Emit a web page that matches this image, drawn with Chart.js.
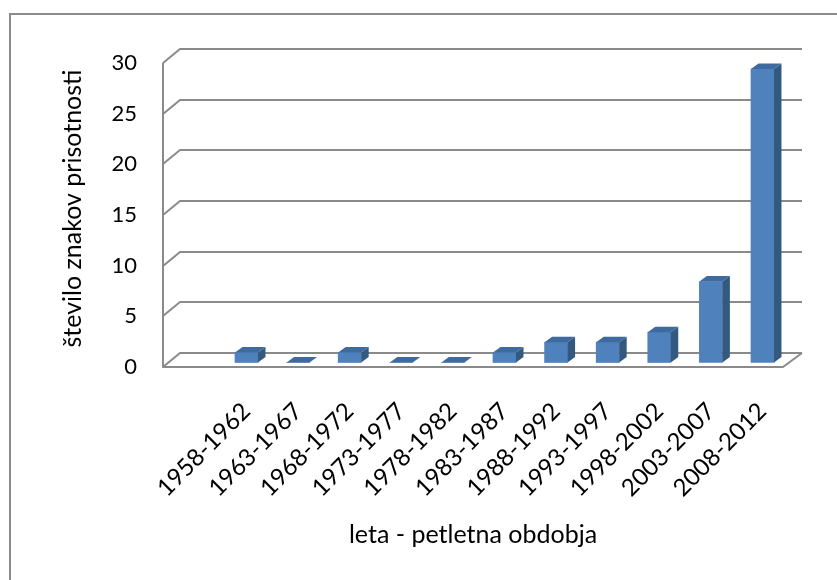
<!DOCTYPE html>
<html>
<head>
<meta charset="utf-8">
<script src="https://cdn.jsdelivr.net/npm/chart.js@4/dist/chart.umd.min.js"></script>
<style>
  html, body { margin: 0; padding: 0; background: #ffffff; }
  #wrap { position: relative; width: 837px; height: 580px; overflow: hidden; }
  #frame { position: absolute; left: 9px; top: 13px; width: 900px; height: 700px; border: 2px solid #8c8c8c; box-sizing: border-box; }
  #c { position: absolute; left: 0; top: 0; }
</style>
</head>
<body>
<div id="wrap">
  <div id="frame"></div>
  <canvas id="c" width="837" height="580"></canvas>
</div>
<script>
// ---- data ----
const categories = ['1958-1962', '1963-1967', '1968-1972', '1973-1977', '1978-1982', '1983-1987',
                    '1988-1992', '1993-1997', '1998-2002', '2003-2007', '2008-2012'];
const counts = [1, 0, 1, 0, 0, 1, 2, 2, 3, 8, 29];
const yTickValues = [0, 5, 10, 15, 20, 25, 30];
const xTitle = 'leta - petletna obdobja';
const yTitle = 'število znakov prisotnosti';

// ---- styles ----
const FONT = 'Lato, "Open Sans", sans-serif';
const FRONT = '#4F81BD';
const TOP = '#3F6A9F';
const SIDE = '#34597F';
const GRID = '#8a8a8a';

const depth3d = {
  id: 'depth3d',
  beforeDatasetsDraw(chart) {
    const ctx = chart.ctx, y = chart.scales.y, ca = chart.chartArea;
    const fl = ca.left + 19, dx = 17, dy = 14, br = ca.right, fr = br - 19;
    ctx.save();
    ctx.strokeStyle = GRID;
    ctx.lineWidth = 2;
    ctx.lineJoin = 'round';
    yTickValues.forEach(v => {
      const py = Math.round(y.getPixelForValue(v));
      ctx.beginPath();
      ctx.moveTo(fl, py);
      ctx.lineTo(fl + dx, py - dy);
      ctx.lineTo(br, py - dy);
      ctx.stroke();
    });
    const y0 = Math.round(y.getPixelForValue(0));
    const yTop = Math.round(y.getPixelForValue(yTickValues[yTickValues.length - 1]));
    ctx.beginPath();
    ctx.moveTo(fl, yTop);
    ctx.lineTo(fl, y0);
    ctx.lineTo(fr, y0);
    ctx.lineTo(br, y0 - dy);
    ctx.stroke();
    ctx.restore();
  },
  afterDatasetsDraw(chart) {
    const ctx = chart.ctx;
    const meta = chart.getDatasetMeta(0);
    const ddx = 7.5, ddy = 5.5;
    ctx.save();
    meta.data.forEach(bar => {
      const p = bar.getProps(['x', 'y', 'base', 'width'], true);
      const l = p.x - p.width / 2, r = p.x + p.width / 2;
      ctx.fillStyle = SIDE;
      ctx.beginPath();
      ctx.moveTo(r, p.y);
      ctx.lineTo(r + ddx, p.y - ddy);
      ctx.lineTo(r + ddx, p.base - ddy);
      ctx.lineTo(r, p.base);
      ctx.closePath();
      ctx.fill();
      ctx.fillStyle = TOP;
      ctx.beginPath();
      ctx.moveTo(l, p.y);
      ctx.lineTo(l + ddx, p.y - ddy);
      ctx.lineTo(r + ddx, p.y - ddy);
      ctx.lineTo(r, p.y);
      ctx.closePath();
      ctx.fill();
    });
    ctx.restore();
  }
};

new Chart(document.getElementById('c'), {
  type: 'bar',
  data: {
    datasets: [{
      data: categories.map((c, i) => ({ x: i, y: counts[i] })),
      backgroundColor: FRONT,
      borderWidth: 0,
      barThickness: 23,
      yAxisID: 'yb'
    }]
  },
  options: {
    responsive: false,
    animation: false,
    events: [],
    layout: { padding: { left: 55, right: 35, top: 50, bottom: 26 } },
    plugins: { legend: { display: false }, tooltip: { enabled: false } },
    scales: {
      x: {
        type: 'linear',
        offset: false,
        min: -1.986,
        max: 10.766,
        afterBuildTicks: s => { s.ticks = categories.map((c, i) => ({ value: i })); },
        afterFit: s => { s.height = 187; },
        grid: { display: false, offset: false },
        border: { display: false },
        ticks: {
          autoSkip: false,
          minRotation: 45,
          maxRotation: 45,
          padding: 22,
          color: '#000',
          font: { family: FONT, size: 24 },
          callback: v => categories[v]
        },
        title: { display: true, text: xTitle, color: '#000', font: { family: FONT, size: 25 }, padding: { top: 4, bottom: 4 } }
      },
      y: {
        position: 'left',
        min: 0,
        max: 31.28,
        afterBuildTicks: s => { s.ticks = yTickValues.map(v => ({ value: v })); },
        afterFit: s => { s.width = 89; },
        grid: { display: false, drawTicks: false },
        border: { display: false },
        ticks: { padding: 7, color: '#000', font: { family: FONT, size: 22 } },
        title: { display: true, text: yTitle, color: '#000', font: { family: FONT, size: 25 }, padding: { top: 3, bottom: 0 } }
      },
      yb: {
        display: false,
        min: -0.445,
        max: 30.88
      }
    }
  },
  plugins: [depth3d]
});
</script>
</body>
</html>
